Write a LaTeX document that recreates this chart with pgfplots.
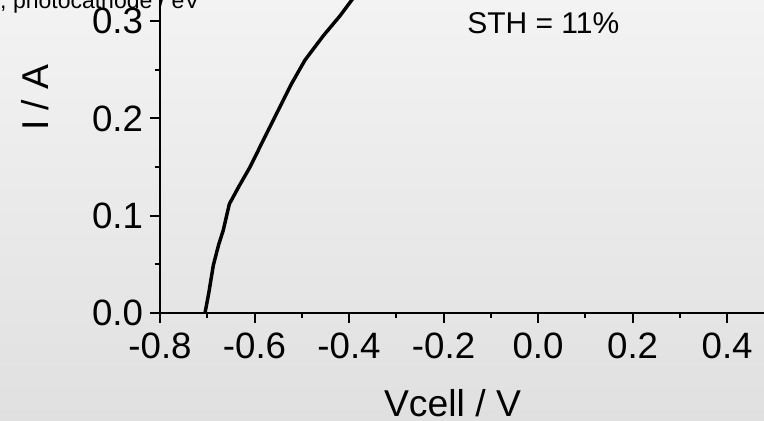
\documentclass[border=0pt]{standalone}
\usepackage{fontspec}
\setmainfont{Liberation Sans}
\usepackage{pgfplots}
\pgfplotsset{compat=1.18}
\definecolor{bgtop}{RGB}{243,243,243}
\definecolor{bgbot}{RGB}{224,224,224}

\begin{document}
\begin{tikzpicture}
% background, 764x421 px at 0.75pt per px
\shade[top color=bgtop, bottom color=bgbot] (0,0) rectangle (573pt,315.75pt);
\begin{scope}
\clip (0,0) rectangle (573pt,315.75pt);
\begin{axis}[
    at={(120pt,81pt)}, anchor=south west,
    scale only axis, width=453pt, height=234.75pt,
    xmin=-0.8, xmax=0.478, ymin=0, ymax=0.3217,
    axis lines=left, axis line style={-, line width=2.2pt},
    xtick={-0.8,-0.6,-0.4,-0.2,0,0.2,0.4}, minor x tick num=1,
    ytick={0,0.1,0.2,0.3}, minor y tick num=1,
    tick align=outside, major tick length=7.5pt, minor tick length=4pt,
    tick style={black, line width=1.5pt},
    tick label style={font=\fontsize{27.5}{32}\selectfont, inner sep=0pt},
    xticklabel style={yshift=-7.5pt},
    yticklabel style={xshift=-5pt},
    /pgf/number format/fixed, /pgf/number format/fixed zerofill,
    /pgf/number format/precision=1, /pgf/number format/assume math mode=true,
]
\addplot[black, line width=2.6pt, mark=none] coordinates {
    (-0.7048,0.0)(-0.697,0.02)(-0.6872,0.049)(-0.676,0.07)(-0.666,0.0853)
    (-0.6554,0.1076)(-0.6533,0.112)(-0.632,0.131)(-0.6095,0.150)
    (-0.574,0.185)(-0.546,0.212)(-0.5213,0.236)(-0.4931,0.260)
    (-0.4544,0.285)(-0.419,0.3055)(-0.3942,0.3217)(-0.37,0.335)
};
\end{axis}
\node[anchor=base east, inner sep=0, font=\fontsize{17.25}{20}\selectfont] at (150pt,309pt) {, photocathode / eV};
\node[anchor=base west, inner sep=0, font=\fontsize{22.5}{26}\selectfont] at (350.25pt,290.75pt) {STH = 11\%};
\node[anchor=base, inner sep=0, font=\fontsize{28}{32}\selectfont] at (339.4pt,3pt) {Vcell / V};
\node[anchor=base, rotate=90, inner sep=0, font=\fontsize{28}{32}\selectfont] at (36pt,242.6pt) {I / A};
\end{scope}
\pgfresetboundingbox
\useasboundingbox (0,0) rectangle (573pt,315.75pt);
\end{tikzpicture}
\end{document}
